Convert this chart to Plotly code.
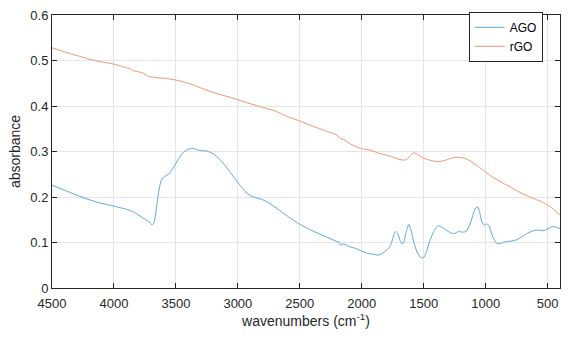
import plotly.graph_objects as go

ago_wn = [4500, 4400, 4300, 4200, 4100, 4000, 3900, 3850, 3800, 3750, 3720, 3700, 3690, 3675, 3660, 3640, 3620, 3600, 3580, 3550, 3520, 3480, 3440, 3400, 3370, 3340, 3300, 3250, 3200, 3150, 3100, 3050, 3000, 2950, 2900, 2850, 2800, 2750, 2700, 2650, 2600, 2550, 2500, 2400, 2300, 2200, 2180, 2170, 2150, 2100, 2050, 2000, 1950, 1900, 1870, 1840, 1800, 1770, 1750, 1730, 1710, 1690, 1675, 1660, 1640, 1620, 1600, 1580, 1550, 1520, 1500, 1480, 1450, 1420, 1400, 1380, 1350, 1300, 1270, 1250, 1220, 1190, 1170, 1150, 1120, 1100, 1080, 1065, 1050, 1030, 1010, 990, 970, 950, 920, 900, 880, 850, 800, 750, 700, 650, 600, 560, 530, 500, 470, 440, 400]
ago_abs = [0.226, 0.215, 0.204, 0.194, 0.186, 0.180, 0.173, 0.168, 0.160, 0.151, 0.146, 0.140, 0.139, 0.145, 0.170, 0.210, 0.235, 0.243, 0.247, 0.252, 0.265, 0.283, 0.298, 0.305, 0.307, 0.305, 0.302, 0.301, 0.295, 0.284, 0.268, 0.250, 0.232, 0.215, 0.203, 0.198, 0.194, 0.187, 0.178, 0.168, 0.158, 0.149, 0.140, 0.126, 0.114, 0.102, 0.100, 0.094, 0.097, 0.091, 0.087, 0.081, 0.076, 0.074, 0.072, 0.075, 0.083, 0.092, 0.108, 0.124, 0.120, 0.104, 0.097, 0.102, 0.125, 0.140, 0.125, 0.100, 0.077, 0.066, 0.067, 0.078, 0.104, 0.124, 0.133, 0.137, 0.133, 0.124, 0.120, 0.120, 0.124, 0.123, 0.123, 0.127, 0.145, 0.163, 0.176, 0.178, 0.168, 0.145, 0.138, 0.141, 0.135, 0.118, 0.101, 0.097, 0.098, 0.101, 0.103, 0.106, 0.114, 0.122, 0.127, 0.127, 0.126, 0.130, 0.134, 0.135, 0.130]

rgo_wn = [4500, 4400, 4300, 4200, 4100, 4000, 3950, 3900, 3870, 3850, 3800, 3760, 3740, 3720, 3700, 3650, 3600, 3500, 3400, 3300, 3200, 3100, 3000, 2900, 2800, 2700, 2650, 2600, 2500, 2400, 2300, 2200, 2170, 2150, 2100, 2050, 2000, 1950, 1900, 1850, 1800, 1750, 1700, 1660, 1630, 1600, 1575, 1550, 1500, 1450, 1400, 1350, 1300, 1250, 1200, 1150, 1100, 1050, 1000, 950, 900, 850, 800, 750, 700, 650, 600, 550, 500, 470, 440, 400]
rgo_abs = [0.528, 0.519, 0.511, 0.503, 0.497, 0.492, 0.488, 0.484, 0.482, 0.478, 0.475, 0.472, 0.468, 0.465, 0.464, 0.462, 0.461, 0.457, 0.450, 0.440, 0.430, 0.422, 0.414, 0.405, 0.397, 0.389, 0.383, 0.377, 0.367, 0.356, 0.346, 0.336, 0.328, 0.327, 0.318, 0.311, 0.306, 0.304, 0.300, 0.295, 0.292, 0.288, 0.283, 0.281, 0.284, 0.293, 0.297, 0.293, 0.285, 0.281, 0.278, 0.279, 0.283, 0.287, 0.287, 0.283, 0.275, 0.265, 0.255, 0.245, 0.237, 0.229, 0.222, 0.214, 0.207, 0.201, 0.195, 0.190, 0.182, 0.177, 0.170, 0.160]

x_ticks = [500, 1000, 1500, 2000, 2500, 3000, 3500, 4000, 4500]
y_ticks = [0, 0.1, 0.2, 0.3, 0.4, 0.5, 0.6]
y_tick_labels = ["0", "0.1", "0.2", "0.3", "0.4", "0.5", "0.6"]

FONT = "Liberation Sans, Arial, Helvetica, sans-serif"
AX = "#262626"

fig = go.Figure()
fig.add_trace(go.Scatter(x=ago_wn, y=ago_abs, mode="lines", name="AGO",
                         line=dict(color="#5aa6de", width=1, shape="spline", smoothing=0.6)))
fig.add_trace(go.Scatter(x=rgo_wn, y=rgo_abs, mode="lines", name="rGO",
                         line=dict(color="#ef9272", width=1, shape="spline", smoothing=0.6)))

fig.update_layout(
    width=586, height=347,
    margin=dict(l=52, r=26, t=8, b=59),
    paper_bgcolor="white", plot_bgcolor="white",
    font=dict(family=FONT, size=13, color=AX),
    showlegend=True,
    legend=dict(x=0.893, y=0.92, xanchor="center", yanchor="middle",
                bgcolor="white", bordercolor=AX, borderwidth=1,
                font=dict(family=FONT, size=12, color="black"),
                tracegroupgap=0, itemwidth=30),
)
fig.update_xaxes(
    range=[4500, 400], tickvals=x_ticks, ticktext=[str(v) for v in x_ticks],
    showgrid=True, gridcolor="#e5e5e5", gridwidth=1,
    showline=True, linecolor=AX, linewidth=1, mirror="ticks",
    ticks="inside", ticklen=5, tickcolor=AX, zeroline=False,
    tickfont=dict(size=13, color=AX), ticklabelstandoff=3,
    title=dict(text="wavenumbers (cm<sup>-1</sup>)", font=dict(size=14, color=AX), standoff=6),
)
fig.update_yaxes(
    range=[0, 0.6], tickvals=y_ticks, ticktext=y_tick_labels,
    showgrid=True, gridcolor="#e5e5e5", gridwidth=1,
    showline=True, linecolor=AX, linewidth=1, mirror="ticks",
    ticks="inside", ticklen=5, tickcolor=AX, zeroline=False,
    tickfont=dict(size=13, color=AX),
    title=dict(text="absorbance", font=dict(size=14, color=AX), standoff=6),
)

fig.write_html("out.html", config={"displayModeBar": False},
               post_script="document.body.style.margin='0';document.body.style.overflow='hidden';")
